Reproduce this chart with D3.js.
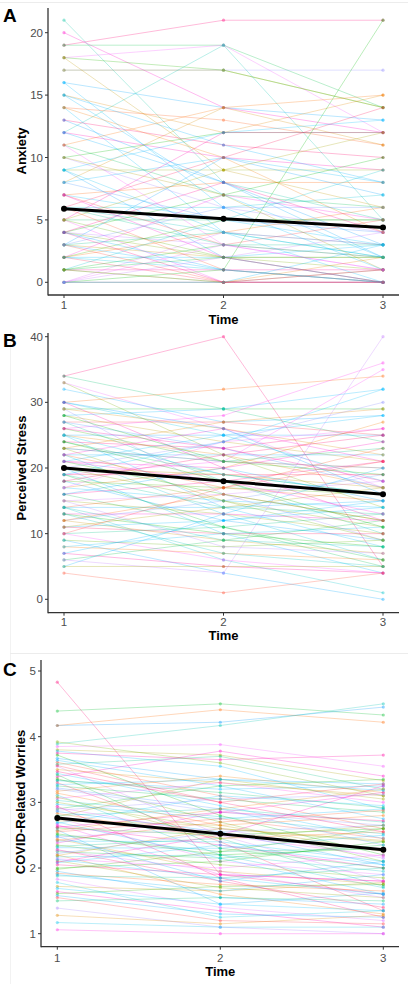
<!DOCTYPE html>
<html><head><meta charset="utf-8">
<script src="https://cdn.jsdelivr.net/npm/d3@7"></script>
<style>body{margin:0;background:#fff}svg{display:block}</style>
</head><body><svg id="c" width="408" height="984"></svg>
<script>
const times = [1, 2, 3];
const timeTicks = ["1", "2", "3"];

const anxietyTicks = [0, 5, 10, 15, 20];
const anxietyMean = [5.9, 5.1, 4.4];
const anxiety = [
[19,21,21],[21,8,5],[20,14,12],[19,19,14],[18,19,12],[18,17,14],[17,17,17],[17,17,14],
[16,14,13],[15,12,15],[15,7,2],[14,13,11],[14,4,0],[13,11,10],[12,19,5],[12,10,9],
[11,7,6],[11,3,1],[10,12,12],[10,6,4],[9,9,9],[9,2,0],[8,14,11],[8,10,8],[7,8,8],
[7,5,3],[6,10,14],[6,4,2],[5,12,12],[5,5,5],[5,0,0],[4,7,10],[4,3,2],[4,2,1],[3,10,7],
[3,2,2],[3,1,0],[2,4,6],[2,2,3],[2,0,0],[1,5,9],[1,1,1],[1,0,0],[0,0,0],[0,1,21],
[0,2,4],[0,0,1],[13,8,3],[18,9,6],[15,11,8],[11,14,15],[9,12,13],[7,3,5],[6,6,7],
[4,8,4],[3,4,3],[2,7,5],[1,3,2],[0,4,3],[5,2,0],[8,5,4],[10,7,1],[12,8,2],[14,10,4],
[16,6,1],[3,0,0],[2,1,0],[4,0,1],[6,3,3],[7,2,0],[1,2,2],[0,3,1],[2,5,5],[3,6,6],
[5,9,12],[4,1,0],[1,0,2],[0,0,3],[6,1,0],[9,4,2]
];

const stressTicks = [0, 10, 20, 30, 40];
const stressMean = [20, 18, 16];
const stress = [
[34,40,5],[34,29,24],[33,26,17],[33,22,14],[32,27,28],[30,32,34],[30,25,18],[30,20,12],
[29,29,29],[29,16,9],[28,24,21],[28,29,32],[27,27,25],[27,18,10],[26,28,36],[26,21,20],
[25,25,25],[25,22,17],[25,14,8],[24,23,26],[24,19,16],[23,21,20],[23,15,11],[22,22,22],
[22,17,15],[22,13,6],[21,20,24],[21,16,12],[20,24,30],[20,19,17],[20,10,4],[19,19,19],
[19,14,13],[19,21,35],[18,17,16],[18,12,9],[17,20,27],[17,15,14],[16,18,21],[16,11,5],
[15,16,18],[15,13,10],[14,14,15],[14,17,23],[14,6,1],[13,13,12],[13,10,8],[12,15,19],
[12,9,7],[11,12,14],[11,10,10],[10,11,13],[10,6,4],[9,8,9],[9,4,0],[8,7,6],[8,10,11],
[7,5,4],[6,9,12],[6,4,40],[5,5,5],[5,13,20],[4,1,4],[13,7,5],[22,26,21],[24,18,11],
[27,23,17],[29,26,22],[21,25,28],[18,22,25],[23,21,23],[17,24,26],[20,15,9],[16,20,15],
[12,16,12],[25,19,16],[26,23,18],[19,11,6],[15,8,7],[11,14,17],[7,12,15],[10,17,21],
[14,9,8],[21,18,13],[28,21,19],[30,26,16],[23,27,29],[19,24,32]
];

const worryTicks = [1, 2, 3, 4, 5];
const worryMean = [2.76, 2.52, 2.28];
const worry = [
[4.83,1.9,1.6],[4.39,4.5,4.33],[4.17,4.22,4.45],[4.17,4.41,4.22],[3.89,4.17,4.5],
[3.85,3.88,3.55],[3.8,3.72,3.33],[3.78,3.55,2.9],[3.75,3.65,3.72],[3.72,2.8,2.2],
[3.67,3.35,3.28],[3.61,3.1,2.6],[3.58,3.7,3.2],[3.55,2.5,1.8],[3.5,3.3,3.1],
[3.44,2.95,2.45],[3.39,3.78,3.4],[3.36,2.7,2.1],[3.33,3.2,3.25],[3.3,2.4,1.35],
[3.25,3.05,2.85],[3.2,2.85,2.65],[3.17,3.4,3.15],[3.11,2.2,1.7],[3.06,3.3,3.0],
[3.0,2.6,2.4],[2.97,2.75,2.9],[2.94,1.85,1.25],[2.9,3.25,3.35],[2.86,2.55,2.05],
[2.83,2.45,2.55],[2.8,2.9,2.7],[2.76,2.1,1.9],[2.72,2.65,2.25],[2.68,3.1,2.95],
[2.64,2.35,2.0],[2.61,2.5,2.6],[2.58,1.45,1.62],[2.55,2.75,2.45],[2.5,2.25,2.3],
[2.47,2.6,2.15],[2.44,1.95,1.75],[2.41,2.4,2.1],[2.38,2.85,3.15],[2.35,2.05,1.85],
[2.31,2.3,2.5],[2.28,1.8,1.4],[2.25,2.15,2.35],[2.22,2.55,2.65],[2.2,1.6,1.3],
[2.17,2.2,1.95],[2.14,2.0,2.2],[2.11,1.7,1.55],[2.08,2.35,2.05],[2.05,1.9,1.8],
[2.0,2.1,2.4],[1.95,1.55,1.45],[1.92,1.75,1.65],[1.88,1.85,2.0],[1.83,1.4,1.2],
[1.72,1.65,1.78],[1.69,1.45,1.35],[1.64,1.35,1.1],[1.61,1.72,1.75],[1.58,1.3,1.25],
[1.55,1.2,1.15],[1.5,1.55,1.5],[1.39,1.1,1.0],[1.28,1.15,1.28],[1.17,1.1,1.1],
[1.06,1.0,1.0],[3.92,3.6,3.1],[3.64,3.25,2.75],[3.47,3.0,2.55],[3.42,2.3,2.0],
[3.22,2.9,2.35],[3.14,2.65,2.8],[3.03,2.78,2.52],[2.92,2.5,2.18],[2.78,3.35,3.05],
[2.7,2.15,1.6],[2.62,2.85,2.72],[2.52,2.2,2.3],[2.48,1.8,2.1],[2.42,2.7,2.88],
[2.33,2.45,1.72],[2.27,1.95,1.55],[2.19,2.6,2.42],[2.13,1.85,1.6],[2.09,2.5,3.25],
[1.98,2.25,2.6],[1.9,1.65,1.9],[3.56,3.0,3.28],[3.34,3.15,2.92],[2.88,3.05,3.12],
[2.57,2.9,3.2],[1.78,1.25,1.35],[2.66,1.9,1.8],[3.08,2.45,2.65],[3.27,3.35,3.18]
];

const panels = [
  {letter:"A", title:"Anxiety", data:anxiety, mean:anxietyMean, ticks:anxietyTicks, domain:[0,20],
   yr:[282.3,32.7], xr:[64,383], axX:48, axTop:8, axBot:295, titleX:21, titleY:151, letterY:22,
   tickLabY:309, timeY:324},
  {letter:"B", title:"Perceived Stress", data:stress, mean:stressMean, ticks:stressTicks, domain:[0,40],
   yr:[599.3,336.7], xr:[64,383], axX:48, axTop:333, axBot:612.7, titleX:21, titleY:468, letterY:347,
   tickLabY:626, timeY:640},
  {letter:"C", title:"COVID-Related Worries", data:worry, mean:worryMean, ticks:worryTicks, domain:[1,5],
   yr:[933.7,671], xr:[57.3,383.3], axX:41, axTop:660, axBot:946.7, titleX:20, titleY:802, letterY:676,
   tickLabY:961.5, timeY:975.5}
];

const FONT = "Liberation Sans, Arial, sans-serif";
const svg = d3.select("#c");
svg.append("line").attr("x1",0).attr("x2",408).attr("y1",2.5).attr("y2",2.5).attr("stroke","#ececec");
svg.append("line").attr("x1",10).attr("x2",408).attr("y1",653.5).attr("y2",653.5).attr("stroke","#ececec");
svg.append("line").attr("x1",10.5).attr("x2",10.5).attr("y1",330).attr("y2",653).attr("stroke","#f2f2f2");
svg.append("line").attr("x1",10.5).attr("x2",10.5).attr("y1",654).attr("y2",984).attr("stroke","#f2f2f2");

panels.forEach(p => {
  const g = svg.append("g");
  const x = d3.scaleLinear().domain([1,3]).range(p.xr);
  const y = d3.scaleLinear().domain(p.domain).range(p.yr);
  const n = p.data.length;
  const color = i => {
    const k = (i * 37) % n;
    return d3.hcl(15 + 360 * k / n, 100, 65).formatHex();
  };
  const line = d3.line().x((d,i) => x(times[i])).y(d => y(d));

  p.data.forEach((row, i) => {
    g.append("path").attr("d", line(row)).attr("fill","none")
      .attr("stroke", color(i)).attr("stroke-width", 0.9).attr("stroke-opacity", 0.3);
  });
  p.data.forEach((row, i) => {
    g.selectAll(null).data(row).enter().append("circle")
      .attr("cx", (d,j) => x(times[j])).attr("cy", d => y(d)).attr("r", 1.6)
      .attr("fill", color(i)).attr("fill-opacity", 0.4);
  });
  g.append("path").attr("d", line(p.mean)).attr("fill","none")
    .attr("stroke","#000").attr("stroke-width",3);
  g.selectAll(null).data(p.mean).enter().append("circle")
    .attr("cx",(d,j)=>x(times[j])).attr("cy",d=>y(d)).attr("r",3).attr("fill","#000");

  g.append("line").attr("x1",p.axX).attr("x2",p.axX).attr("y1",p.axTop).attr("y2",p.axBot+0.5)
    .attr("stroke","#333").attr("stroke-width",1.3);
  g.append("line").attr("x1",p.axX).attr("x2",399).attr("y1",p.axBot).attr("y2",p.axBot)
    .attr("stroke","#333").attr("stroke-width",1.3);

  p.ticks.forEach(t => {
    g.append("line").attr("x1",p.axX-3).attr("x2",p.axX).attr("y1",y(t)).attr("y2",y(t))
      .attr("stroke","#333").attr("stroke-width",1);
    g.append("text").attr("x",p.axX-5).attr("y",y(t)).attr("dy","0.36em")
      .attr("text-anchor","end").attr("font-family",FONT)
      .attr("font-size",11.5).attr("fill","#4d4d4d").text(t);
  });
  times.forEach((t,i) => {
    g.append("line").attr("x1",x(t)).attr("x2",x(t)).attr("y1",p.axBot).attr("y2",p.axBot+3)
      .attr("stroke","#333").attr("stroke-width",1);
    g.append("text").attr("x",x(t)).attr("y",p.tickLabY)
      .attr("text-anchor","middle").attr("font-family",FONT)
      .attr("font-size",11.5).attr("fill","#4d4d4d").text(timeTicks[i]);
  });
  g.append("text").attr("x",(p.xr[0]+p.xr[1])/2).attr("y",p.timeY)
    .attr("text-anchor","middle").attr("font-family",FONT)
    .attr("font-size",13).attr("font-weight","bold").attr("fill","#000").text("Time");
  g.append("text").attr("transform",`translate(${p.titleX},${p.titleY}) rotate(-90)`)
    .attr("text-anchor","middle").attr("dy","0.36em").attr("font-family",FONT)
    .attr("font-size",13).attr("font-weight","bold").attr("fill","#000").text(p.title);
  g.append("text").attr("x",3).attr("y",p.letterY)
    .attr("font-family",FONT)
    .attr("font-size",19).attr("font-weight","bold").attr("fill","#000").text(p.letter);
});
</script></body></html>
